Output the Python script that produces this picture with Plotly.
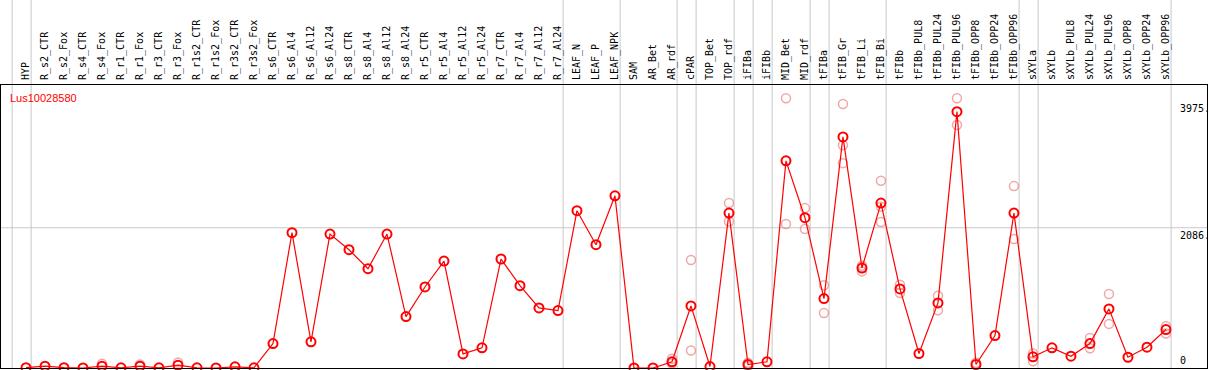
import plotly.graph_objects as go

categories = ["HYP", "R_s2_CTR", "R_s2_Fox", "R_s4_CTR", "R_s4_Fox", "R_r1_CTR", "R_r1_Fox",
              "R_r3_CTR", "R_r3_Fox", "R_r1s2_CTR", "R_r1s2_Fox", "R_r3s2_CTR", "R_r3s2_Fox",
              "R_s6_CTR", "R_s6_Al4", "R_s6_Al12", "R_s6_Al24", "R_s8_CTR", "R_s8_Al4",
              "R_s8_Al12", "R_s8_Al24", "R_r5_CTR", "R_r5_Al4", "R_r5_Al12", "R_r5_Al24",
              "R_r7_CTR", "R_r7_Al4", "R_r7_Al12", "R_r7_Al24", "LEAF_N", "LEAF_P", "LEAF_NPK",
              "SAM", "AR_Bet", "AR_rdf", "cPAR", "TOP_Bet", "TOP_rdf", "iFIBa", "iFIBb",
              "MID_Bet", "MID_rdf", "tFIBa", "tFIB_Gr", "tFIB_Li", "tFIB_Bi", "tFIBb",
              "tFIBb_PUL8", "tFIBb_PUL24", "tFIBb_PUL96", "tFIBb_OPP8", "tFIBb_OPP24",
              "tFIBb_OPP96", "sXYLa", "sXYLb", "sXYLb_PUL8", "sXYLb_PUL24", "sXYLb_PUL96",
              "sXYLb_OPP8", "sXYLb_OPP24", "sXYLb_OPP96"]

means = [5, 27, 5, 0, 27, 3, 27, 3, 42, 3, 0, 18, 3,
         364, 2012, 389, 1992, 1759, 1477, 1992, 765, 1205, 1591, 210, 300,
         1621, 1225, 893, 854, 2339, 1834, 2561,
         0, 0, 92, 923, 22, 2304, 52, 92,
         3081, 2235, 1032, 3437, 1487, 2453, 1176,
         215, 968, 3813, 52, 483, 2304,
         166, 300, 175, 364, 879, 160, 309, 572]

replicates = {
    "R_s4_Fox": [62], "R_r1_Fox": [52], "R_r3_Fox": [82],
    "AR_rdf": [137, 67], "cPAR": [1606, 260], "TOP_rdf": [2453, 2180],
    "iFIBa": [77, 27], "MID_Bet": [4012, 2141], "MID_rdf": [2378, 2067],
    "tFIBa": [1230, 819], "tFIB_Gr": [3927, 3314, 3047], "tFIB_Li": [1437, 1520],
    "tFIB_Bi": [2784, 2171, 2398], "tFIBb": [1240, 1116], "tFIBb_PUL24": [1076, 858],
    "tFIBb_PUL96": [4012, 3615], "tFIBb_OPP8": [77], "tFIBb_OPP96": [2705, 1918],
    "sXYLa": [101, 215], "sXYLb_PUL24": [448, 294], "sXYLb_PUL96": [1101, 656],
    "sXYLb_OPP96": [621, 512],
}

group_ends = ["", "HYP", "R_r7_Al24", "LEAF_NPK", "AR_rdf", "cPAR", "TOP_rdf", "iFIBa",
              "iFIBb", "MID_rdf", "tFIBa", "tFIB_Bi", "tFIBb_OPP96", "sXYLa", "sXYLb_OPP96"]

ytick_vals = [3975, 2086, 0]
ytick_text = ["3975.", "2086.", "0"]
gridline_vals = [2086]
gene = "Lus10028580"

idx = list(range(len(categories)))
pos = {c: i for i, c in enumerate(categories)}

rx, ry = [], []
for c, vals in replicates.items():
    for v in vals:
        rx.append(pos[c])
        ry.append(v)

fig = go.Figure()
fig.add_trace(go.Scatter(
    x=rx, y=ry, mode="markers", cliponaxis=False,
    marker=dict(symbol="circle-open", size=9, color="rgba(235,130,130,0.7)",
                line=dict(width=1.5)),
    hoverinfo="skip", showlegend=False))
fig.add_trace(go.Scatter(
    x=idx, y=means, mode="lines+markers", cliponaxis=False,
    line=dict(color="#ff0000", width=1.2),
    marker=dict(symbol="circle-open", size=9, color="#ff0000", line=dict(width=2)),
    showlegend=False))

shapes = []
for g in group_ends:
    i = pos[g] if g else -1
    shapes.append(dict(type="line", xref="x", yref="paper", x0=i + 0.27, x1=i + 0.27,
                       y0=0, y1=1.31, line=dict(color="#c8c8c8", width=1), layer="below"))
for v in gridline_vals:
    shapes.append(dict(type="line", xref="paper", yref="y", x0=0, x1=1, y0=v, y1=v,
                       line=dict(color="#c8c8c8", width=1), layer="below"))

annotations = []
for v, t in zip(ytick_vals, ytick_text):
    annotations.append(dict(xref="paper", yref="y", x=0.976, y=v, text=t, showarrow=False,
                            xanchor="left", yanchor="bottom" if v == 0 else "top",
                            font=dict(family="DejaVu Sans Mono", size=10, color="black")))
annotations.append(dict(xref="paper", yref="paper", x=0.006, y=0.955, text=gene,
                        showarrow=False, xanchor="left", yanchor="middle",
                        font=dict(family="Liberation Sans, Arial", size=11, color="#ff0000")))

fig.update_layout(
    width=1209, height=370,
    margin=dict(l=1, r=2, t=85, b=2, pad=0),
    paper_bgcolor="white", plot_bgcolor="white",
    shapes=shapes, annotations=annotations,
    xaxis=dict(range=[-1.316, 62.16], side="top", tickmode="array", tickvals=idx,
               ticktext=categories, tickangle=-90, showgrid=False, zeroline=False,
               showline=True, mirror=True, linecolor="black", linewidth=1, ticks="",
               ticklabelstandoff=2,
               tickfont=dict(family="DejaVu Sans Mono", size=10, color="black")),
    yaxis=dict(range=[0, 4209], showticklabels=False, showgrid=False, zeroline=False,
               showline=True, mirror=True, linecolor="black", linewidth=1, ticks=""),
)

fig.write_html("out.html", config={"displayModeBar": False},
               post_script="document.body.style.margin='0';document.body.style.overflow='hidden';")
